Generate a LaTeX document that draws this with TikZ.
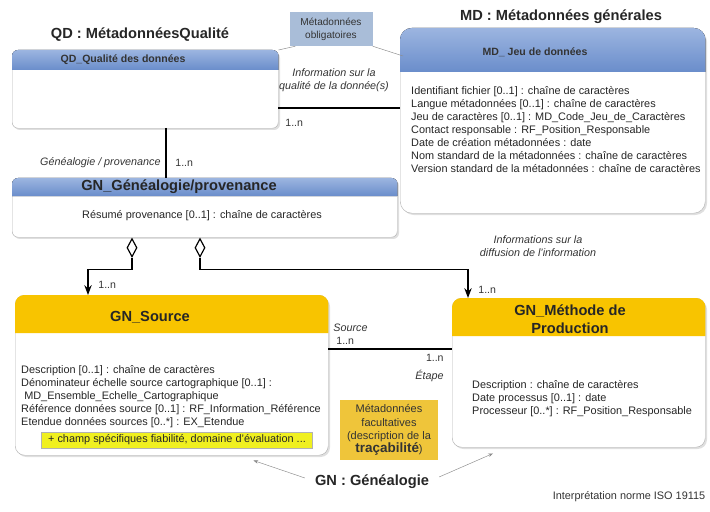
\documentclass[tikz,border=0pt]{standalone}
\usepackage{fontspec}
\setmainfont{Liberation Sans}
\usetikzlibrary{arrows.meta, positioning, calc, shapes.geometric, shadows}

\definecolor{HeadBlue}{HTML}{6A8DCB}
\definecolor{HeadBlueTop}{HTML}{9CB5E0}
\definecolor{HeadGold}{HTML}{F8C400}
\definecolor{NoteBlue}{HTML}{A9BDD8}
\definecolor{NoteGold}{HTML}{EFC53A}
\definecolor{MarkYellow}{HTML}{F0F020}
\definecolor{FrameGray}{HTML}{B4B4B4}

\begin{document}
\begin{tikzpicture}[x=0.03cm, y=-0.03cm, >=Stealth,
  classbox/.style={draw=FrameGray, fill=white, rounded corners=5pt, anchor=north west,
                   inner sep=0pt, drop shadow={opacity=0.25, shadow xshift=1.5pt, shadow yshift=-1.5pt}},
  bluehead/.style={top color=HeadBlueTop, bottom color=HeadBlue, rounded corners=5pt},
  goldhead/.style={fill=HeadGold, rounded corners=8pt},
  pkg/.style={font=\fontsize{12.5}{14}\selectfont\bfseries, text=black!85},
  head/.style={font=\fontsize{9}{10}\selectfont\bfseries, text=black!80},
  attr/.style={font=\fontsize{9.3}{11.2}\selectfont, text=black!85, align=left,
               anchor=north west, inner sep=0pt},
  role/.style={font=\fontsize{9.2}{11}\selectfont\itshape, text=black!80, inner sep=1pt},
  mult/.style={font=\fontsize{9}{10}\selectfont, text=black!80, inner sep=1pt},
  note/.style={font=\fontsize{8.6}{11.3}\selectfont, text=black!80, align=center, inner sep=0pt},
  assoc/.style={line width=1.2pt},
  agg/.style={diamond, draw, fill=white, line width=1pt, inner sep=0pt,
              minimum width=0.3cm, minimum height=0.55cm},
  pointer/.style={draw=black!45, thin}]
  \useasboundingbox (0,0) rectangle (710,511);

  % QD : quality package
  \node[pkg] (qdtitle) at (140,35) {QD : MétadonnéesQualité};
  \node[classbox, minimum width=7.98cm, minimum height=2.34cm] (qd) at (12,50) {};
  \fill[bluehead] ($(qd.north west)+(0,20)$) -- (qd.north west) -- (qd.north east) -- ($(qd.north east)+(0,20)$);
  \node[head] (qdname) at (123,60) {QD\_Qualité des données};

  % MD : general metadata
  \node[pkg] (mdtitle) at (561,17) {MD : Métadonnées générales};
  \node[classbox, rounded corners=10pt, minimum width=9.15cm, minimum height=5.55cm] (md) at (400,28) {};
  \fill[bluehead, rounded corners=10pt] ($(md.north west)+(0,44)$) -- (md.north west) -- (md.north east) -- ($(md.north east)+(0,44)$);
  \node[head] (mdname) at (535,52) {MD\_ Jeu de données};
  \node[attr] (mdattr) at (411,86) {Identifiant fichier [0..1] : chaîne de caractères\\
    Langue métadonnées [0..1] : chaîne de caractères\\
    Jeu de caractères [0..1] : MD\_Code\_Jeu\_de\_Caractères\\
    Contact responsable : RF\_Position\_Responsable\\
    Date de création métadonnées : date\\
    Nom standard de la métadonnées : chaîne de caractères\\
    Version standard de la métadonnées : chaîne de caractères};

  \node[note, fill=NoteBlue, minimum width=2.49cm, minimum height=1.02cm] (oblig) at (331,29) {Métadonnées\\obligatoires};
  \draw[pointer] ($(oblig.south west)+(6,0)$) -- (qd.north east);
  \draw[pointer] (oblig.south east) -- ($(md.north west)+(3,28)$);

  \coordinate (qdmd) at (278,108);
  \draw[assoc] (qdmd) -- (qdmd -| md.west);
  \node[role, align=center] (qdmdrole) at (334,80) {Information sur la\\qualité de la donnée(s)};
  \node[mult, anchor=west] (qdmdmult) at (284,123) {1..n};

  % GN : lineage
  \node[classbox, minimum width=11.55cm, minimum height=1.77cm] (gn) at (12,178) {};
  \fill[bluehead] ($(gn.north west)+(0,18)$) -- (gn.north west) -- (gn.north east) -- ($(gn.north east)+(0,18)$);
  \node[pkg] (gnname) at (179,187) {GN\_Généalogie/provenance};
  \node[attr, anchor=center] (gnattr) at (202,216) {Résumé provenance [0..1] : chaîne de caractères};

  \coordinate (qdgn) at (166,128);
  \draw[assoc] (qdgn) -- (qdgn |- gn.north);
  \node[role, anchor=east] (qdgnrole) at (162,163) {Généalogie / provenance};
  \node[mult, anchor=west] (qdgnmult) at (174,163) {1..n};

  \node[agg, anchor=north] (dia1) at (132,238) {};
  \node[agg, anchor=north] (dia2) at (200,238) {};

  % GN_Source
  \node[classbox, rounded corners=8pt, minimum width=9.39cm, minimum height=4.8cm] (src) at (15,295) {};
  \fill[goldhead] ($(src.north west)+(0,38)$) -- (src.north west) -- (src.north east) -- ($(src.north east)+(0,38)$);
  \node[pkg] (srcname) at (150,317) {GN\_Source};
  \node[attr] (srcattr) at (21,365) {Description [0..1] : chaîne de caractères\\
    Dénominateur échelle source cartographique [0..1] :\\
    \ MD\_Ensemble\_Echelle\_Cartographique\\
    Référence données source [0..1] : RF\_Information\_Référence\\
    Etendue données sources [0..*] : EX\_Etendue};
  \node[fill=MarkYellow, draw=black!30, font=\fontsize{9.3}{10}\selectfont, text=black!85,
        minimum width=8.13cm, minimum height=0.48cm, inner sep=0pt] (srcextra) at (177,440)
        {+ champ spécifiques fiabilité, domaine d'évaluation ...};

  % GN_Methode de Production
  \node[classbox, rounded corners=8pt, minimum width=7.59cm, minimum height=4.47cm] (meth) at (452,298) {};
  \fill[goldhead] ($(meth.north west)+(0,38)$) -- (meth.north west) -- (meth.north east) -- ($(meth.north east)+(0,38)$);
  \node[pkg, font=\fontsize{12.5}{15}\selectfont\bfseries, align=center] (methname) at (570,319) {GN\_Méthode de\\Production};
  \node[attr] (methattr) at (472,380) {Description : chaîne de caractères\\
    Date processus [0..1] : date\\
    Processeur [0..*] : RF\_Position\_Responsable};

  \draw[assoc, ->] (dia1.south) -- ++(0,12) -| ($(src.north west)+(73,0)$);
  \node[mult, anchor=west] (srcmult) at (97,285) {1..n};
  \draw[assoc, ->] (dia2.south) -- ++(0,12) -| ($(meth.north west)+(16,0)$);
  \node[mult, anchor=west] (methmult) at (477,290) {1..n};
  \node[role, align=center] (methrole) at (538,246) {Informations sur la\\diffusion de l'information};

  \coordinate (srcmeth) at (328,349);
  \draw[assoc] (srcmeth) -- (srcmeth -| meth.west);
  \node[role, anchor=west] (srcrole) at (332,328) {Source};
  \node[mult, anchor=west] (srcmult2) at (335,341) {1..n};
  \node[mult, anchor=east] (stepmult) at (445,358) {1..n};
  \node[role, anchor=east] (steprole) at (445,376) {Étape};

  \node[note, fill=NoteGold, font=\fontsize{9.4}{11.3}\selectfont, minimum width=2.94cm, minimum height=1.8cm] (facult) at (389,430)
    {Métadonnées\\facultatives\\(description de la\\{\fontsize{11.5}{11}\selectfont\bfseries traçabilité})};

  \node[pkg] (gnlabel) at (372,482) {GN : Généalogie};
  \draw[pointer, -{Stealth[length=4pt]}] ($(gnlabel.west)+(-6,-4)$) -- ($(src.south east)+(-75,5)$);
  \draw[pointer, -{Stealth[length=4pt]}] ($(gnlabel.east)+(6,-5)$) -- ($(meth.south west)+(41,6)$);

  \node[font=\fontsize{9.3}{10}\selectfont, text=black!80] (iso) at (629,497) {Interprétation norme ISO 19115};
\end{tikzpicture}
\end{document}
